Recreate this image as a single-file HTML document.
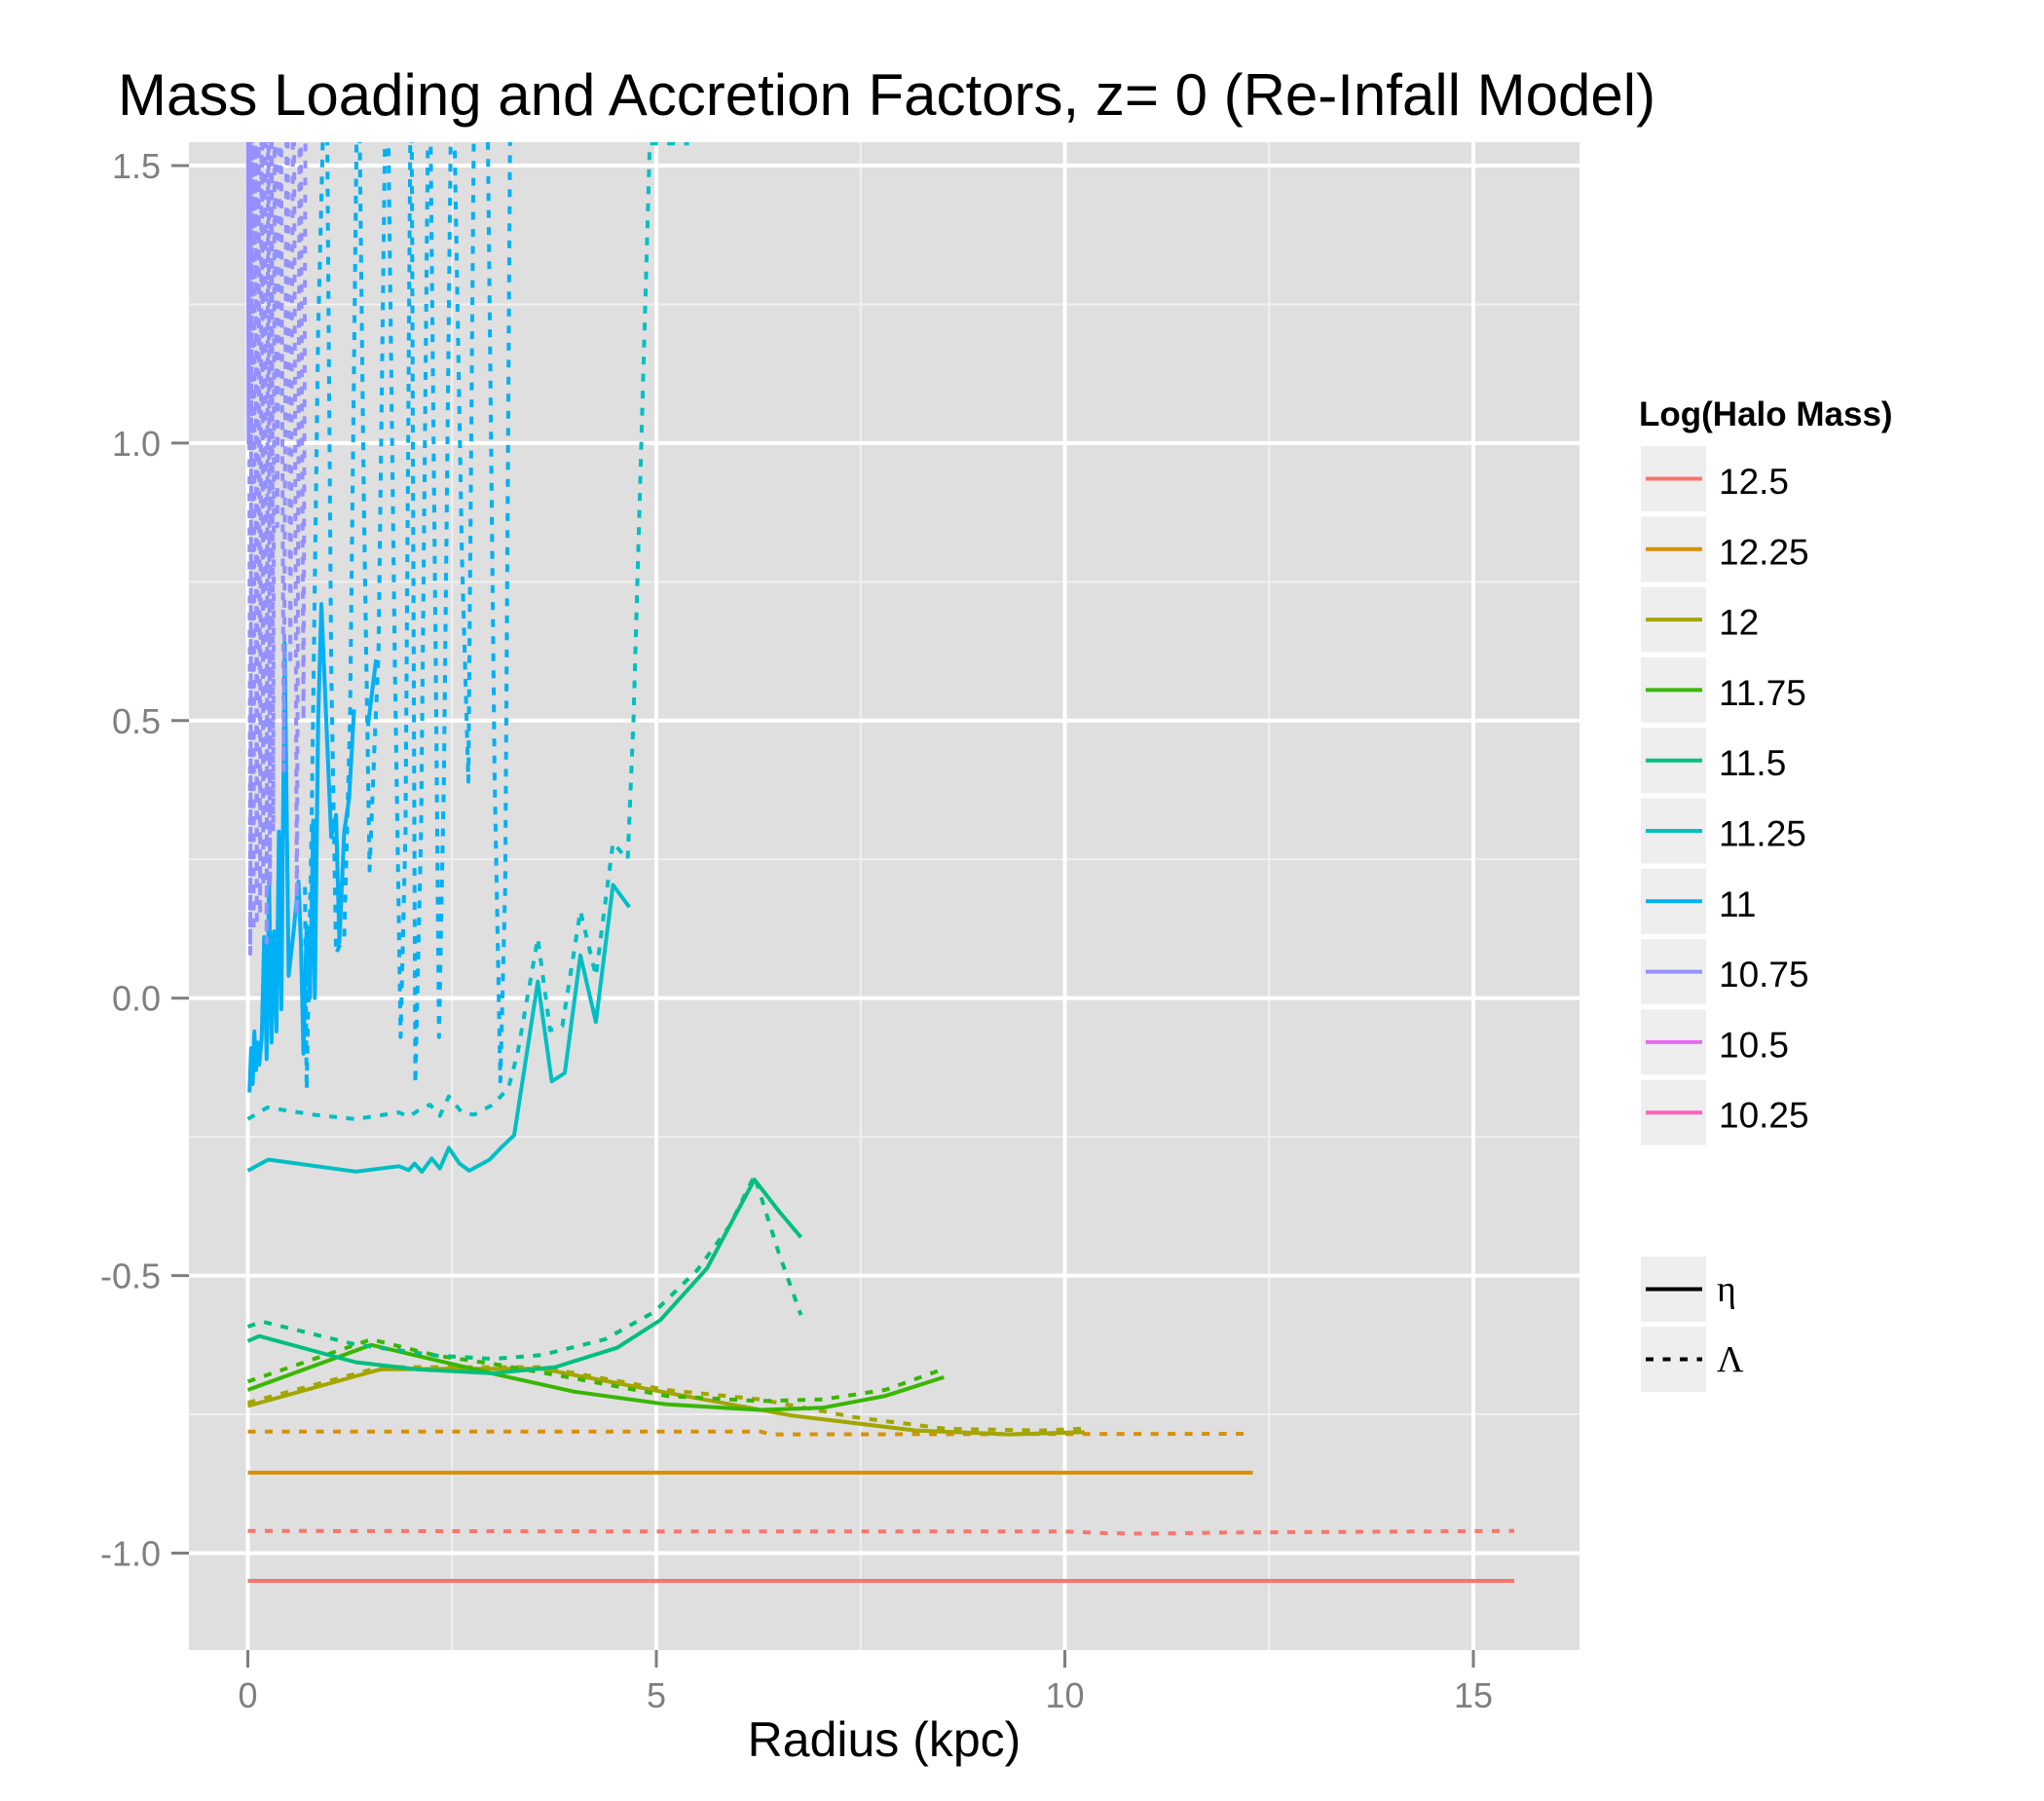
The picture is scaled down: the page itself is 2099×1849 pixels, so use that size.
<!DOCTYPE html>
<html><head><meta charset="utf-8"><style>
html,body{margin:0;padding:0;background:#fff;}
svg{display:block;}
</style></head><body>
<svg id="chart" width="2099" height="1849" viewBox="0 0 2099 1849" xmlns="http://www.w3.org/2000/svg">
<defs><clipPath id="pclip"><rect x="194" y="146" width="1428" height="1548"/></clipPath></defs>
<text x="121" y="118" font-family="Liberation Sans, sans-serif" font-size="60" fill="#000">Mass Loading and Accretion Factors, z= 0 (Re-Infall Model)</text>
<rect x="194" y="146" width="1428" height="1548" fill="#DFDFDF"/>
<g id="grid"></g>
<g id="series" clip-path="url(#pclip)"></g>
<g id="axes"></g>
<text x="908" y="1803" text-anchor="middle" font-family="Liberation Sans, sans-serif" font-size="50" fill="#000">Radius (kpc)</text>
<g id="legend"></g>
</svg>
<script>
const NS='http://www.w3.org/2000/svg';
const xTicks=[0,5,10,15];
const xMinor=[2.5,7.5,12.5];
const yTicks=[1.5,1.0,0.5,0.0,-0.5,-1.0];
const yTickLabels=['1.5','1.0','0.5','0.0','-0.5','-1.0'];
const yMinor=[1.25,0.75,0.25,-0.25,-0.75];
const massLevels=['12.5','12.25','12','11.75','11.5','11.25','11','10.75','10.5','10.25'];
const massColors=['#F8766D','#D89000','#A3A500','#39B600','#00BF7D','#00BFC4','#00B0F6','#9590FF','#E76BF3','#FF62BC'];

const x125eta=[0,5,10,15.5];
const y125eta=[-1.05,-1.05,-1.05,-1.05];
const x125lam=[0,5,10,10.5,11,12,15.5];
const y125lam=[-0.96,-0.961,-0.961,-0.964,-0.965,-0.963,-0.96];
const x1225eta=[0,6,12.3];
const y1225eta=[-0.855,-0.855,-0.855];
const x1225lam=[0,6.27,6.4,12.3];
const y1225lam=[-0.781,-0.781,-0.786,-0.785];
const x12eta=[0,1.62,2.46,3.6,5.13,6.65,8.17,9.32,10.24];
const y12eta=[-0.735,-0.669,-0.668,-0.668,-0.711,-0.752,-0.779,-0.786,-0.782];
const x12lam=[0,1.62,3.6,5.13,6.27,7.42,8.55,9.7,10.2];
const y12lam=[-0.729,-0.665,-0.665,-0.706,-0.723,-0.755,-0.776,-0.779,-0.776];
const x1175eta=[0,1.51,3.07,3.99,5.13,6.27,7.04,7.8,8.52];
const y1175eta=[-0.706,-0.625,-0.679,-0.709,-0.732,-0.742,-0.738,-0.717,-0.683];
const x1175lam=[0,1.51,2.31,3.0,3.99,5.13,6.27,7.04,7.8,8.52];
const y1175lam=[-0.691,-0.615,-0.644,-0.659,-0.685,-0.717,-0.726,-0.723,-0.706,-0.668];
const x115eta=[0,0.14,1.32,2.08,3.0,3.76,4.52,5.05,5.62,6.2,6.5,6.77];
const y115eta=[-0.618,-0.609,-0.656,-0.669,-0.676,-0.665,-0.63,-0.58,-0.487,-0.327,-0.384,-0.431];
const x115lam=[0,0.18,1.32,2.31,3.0,3.6,4.37,4.98,5.5,5.9,6.2,6.5,6.77];
const y115lam=[-0.592,-0.583,-0.624,-0.644,-0.65,-0.643,-0.615,-0.565,-0.49,-0.41,-0.32,-0.46,-0.571];
const x1125eta=[0,0.25,1.32,1.85,1.97,2.04,2.13,2.25,2.35,2.46,2.59,2.71,2.96,3.11,3.26,3.55,3.72,3.88,4.07,4.26,4.47,4.67];
const y1125eta=[-0.311,-0.291,-0.3125,-0.303,-0.31,-0.298,-0.313,-0.289,-0.307,-0.27,-0.298,-0.311,-0.291,-0.268,-0.247,0.03,-0.15,-0.135,0.077,-0.043,0.204,0.164];
const x1125lam=[0,0.24,0.8,1.32,1.85,1.97,2.08,2.23,2.35,2.46,2.62,2.77,3.0,3.19,3.3,3.55,3.7,3.85,4.07,4.26,4.47,4.65,4.72,4.92,5.4];
const y1125lam=[-0.218,-0.197,-0.21,-0.218,-0.206,-0.214,-0.203,-0.192,-0.212,-0.177,-0.206,-0.21,-0.192,-0.162,-0.1,0.108,-0.058,-0.05,0.157,0.04,0.28,0.25,0.5,1.54,1.54];
const x11eta=[0.02,0.04,0.06,0.08,0.10,0.12,0.14,0.17,0.20,0.23,0.26,0.29,0.32,0.35,0.38,0.41,0.45,0.50,0.56,0.62,0.65,0.68,0.72,0.76,0.80,0.82,0.86,0.90,1.02,1.08,1.12,1.18,1.24,1.30,1.40,1.47,1.57];
const y11eta=[-0.17,-0.09,-0.155,-0.06,-0.13,-0.08,-0.12,-0.07,0.11,-0.11,0.21,-0.08,0.12,-0.06,0.3,-0.02,0.64,0.04,0.12,0.21,0.1,-0.1,0.13,0.0,0.32,0.0,0.5,0.71,0.29,0.33,0.1,0.3,0.36,0.52,null,0.49,0.61];
const x11lam=[0.70,0.72,0.78,0.86,0.96,1.02,1.08,1.14,1.18,1.25,1.35,1.42,1.49,1.55,1.60,1.70,1.80,1.87,1.93,2.00,2.05,2.12,2.22,2.30,2.34,2.40,2.50,2.62,2.70,2.78,2.92,3.02,3.09,3.15,3.22,3.35];
const y11lam=[0.2,-0.165,0.3,1.2,1.8,0.6,0.08,0.10,0.11,0.5,1.8,0.9,0.23,0.45,0.62,1.8,0.6,-0.07,0.3,1.8,-0.155,0.3,1.8,0.6,-0.07,0.4,1.8,0.8,0.39,1.8,1.8,0.4,-0.15,0.2,1.8,1.8];
const x1075eta=[0.0,0.01,0.02,0.03];
const y1075eta=[1.8,1.0,1.8,1.3];
const x1075lam=[0.01,0.03,0.05,0.07,0.09,0.11,0.13,0.15,0.17,0.19,0.21,0.23,0.25,0.27,0.29,0.31,0.33,0.36,0.40,0.44,0.48,0.52,0.56,0.60,0.64,0.68,0.71];
const y1075lam=[1.8,0.08,1.8,0.12,1.8,0.13,1.8,0.15,1.8,0.2,1.8,0.1,1.8,0.2,1.8,0.3,1.8,0.85,1.8,0.41,1.8,0.6,1.8,0.15,1.8,0.5,1.8];

const seriesList=[
 [x125eta,y125eta,0,false],[x125lam,y125lam,0,true],
 [x1225eta,y1225eta,1,false],[x1225lam,y1225lam,1,true],
 [x12eta,y12eta,2,false],[x12lam,y12lam,2,true],
 [x1175eta,y1175eta,3,false],[x1175lam,y1175lam,3,true],
 [x115eta,y115eta,4,false],[x115lam,y115lam,4,true],
 [x1125eta,y1125eta,5,false],[x1125lam,y1125lam,5,true],
 [x11lam,y11lam,6,true],[x11eta,y11eta,6,false],
 [x1075lam,y1075lam,7,true],[x1075eta,y1075eta,7,false]
];

function sx(v){return 254.5+v*83.9;}
function sy(v){return 1594.5-(v+1)*569.8;}
function mk(tag,attrs,parent){const e=document.createElementNS(NS,tag);for(const k in attrs)e.setAttribute(k,attrs[k]);parent.appendChild(e);return e;}

const grid=document.getElementById('grid');
xMinor.forEach(v=>{const l=mk('line',{x1:sx(v),x2:sx(v),y1:146,y2:1694,stroke:'#F0F0F0','stroke-width':2},grid);

});
yMinor.forEach(v=>{const l=mk('line',{x1:194,x2:1622,y1:sy(v),y2:sy(v),stroke:'#F0F0F0','stroke-width':2},grid);

});
xTicks.forEach(v=>{const l=mk('line',{x1:sx(v),x2:sx(v),y1:146,y2:1694,stroke:'#FFFFFF','stroke-width':4},grid);

});
yTicks.forEach(v=>{const l=mk('line',{x1:194,x2:1622,y1:sy(v),y2:sy(v),stroke:'#FFFFFF','stroke-width':4},grid);

});

const axes=document.getElementById('axes');
xTicks.forEach(v=>{
 const t=mk('line',{x1:sx(v),x2:sx(v),y1:1694,y2:1712,stroke:'#7F7F7F','stroke-width':3},axes);
 
 
 const tx=mk('text',{x:sx(v),y:1753,'text-anchor':'middle','font-family':'Liberation Sans, sans-serif','font-size':36,fill:'#7F7F7F'},axes);
 tx.textContent=String(v);
 
 
});
yTicks.forEach((v,i)=>{
 const t=mk('line',{x1:176,x2:194,y1:sy(v),y2:sy(v),stroke:'#7F7F7F','stroke-width':3},axes);
 
 
 const tx=mk('text',{x:165,y:sy(v)+13,'text-anchor':'end','font-family':'Liberation Sans, sans-serif','font-size':36,fill:'#7F7F7F'},axes);
 tx.textContent=yTickLabels[i];
 
 
});

const sg=document.getElementById('series');
seriesList.forEach(s=>{
 const xs=s[0],ys=s[1];let d='';let pen=false;
 for(let i=0;i<xs.length;i++){
  if(ys[i]===null){pen=false;continue;}
  d+=(pen?'L':'M')+sx(xs[i]).toFixed(1)+' '+sy(ys[i]).toFixed(1);pen=true;
 }
 const p=mk('path',{d:d,fill:'none',stroke:massColors[s[2]],'stroke-width':4,'stroke-linejoin':'round'},sg);
 if(s[3])p.setAttribute('stroke-dasharray','8 9.5');
 
 
});

const lg=document.getElementById('legend');
const lt=mk('text',{x:1683,y:437,'font-family':'Liberation Sans, sans-serif','font-size':35,'font-weight':'bold',fill:'#000'},lg);
lt.textContent='Log(Halo Mass)';


massLevels.forEach((m,i)=>{
 const top=458+i*72.3;
 const g=mk('g',{},lg);
 
 
 mk('rect',{x:1685,y:top,width:67,height:67,fill:'#EEEEEE'},g);
 mk('line',{x1:1690,x2:1748,y1:top+33.5,y2:top+33.5,stroke:massColors[i],'stroke-width':4},g);
 const t=mk('text',{x:1765,y:top+49,'font-family':'Liberation Sans, sans-serif','font-size':37,fill:'#000'},g);
 t.textContent=m;
});
[['η',1290,false],['Λ',1362,true]].forEach(e=>{
 const g=mk('g',{},lg);
 
 
 mk('rect',{x:1685,y:e[1],width:67,height:67,fill:'#EEEEEE'},g);
 const l=mk('line',{x1:1690,x2:1748,y1:e[1]+33.5,y2:e[1]+33.5,stroke:'#000','stroke-width':4},g);
 if(e[2])l.setAttribute('stroke-dasharray','8 9.5');
 const t=mk('text',{x:1763,y:e[1]+46,'font-family':'Liberation Serif, DejaVu Serif, serif','font-size':38,fill:'#000'},g);
 t.textContent=e[0];
});
</script>
</body></html>
